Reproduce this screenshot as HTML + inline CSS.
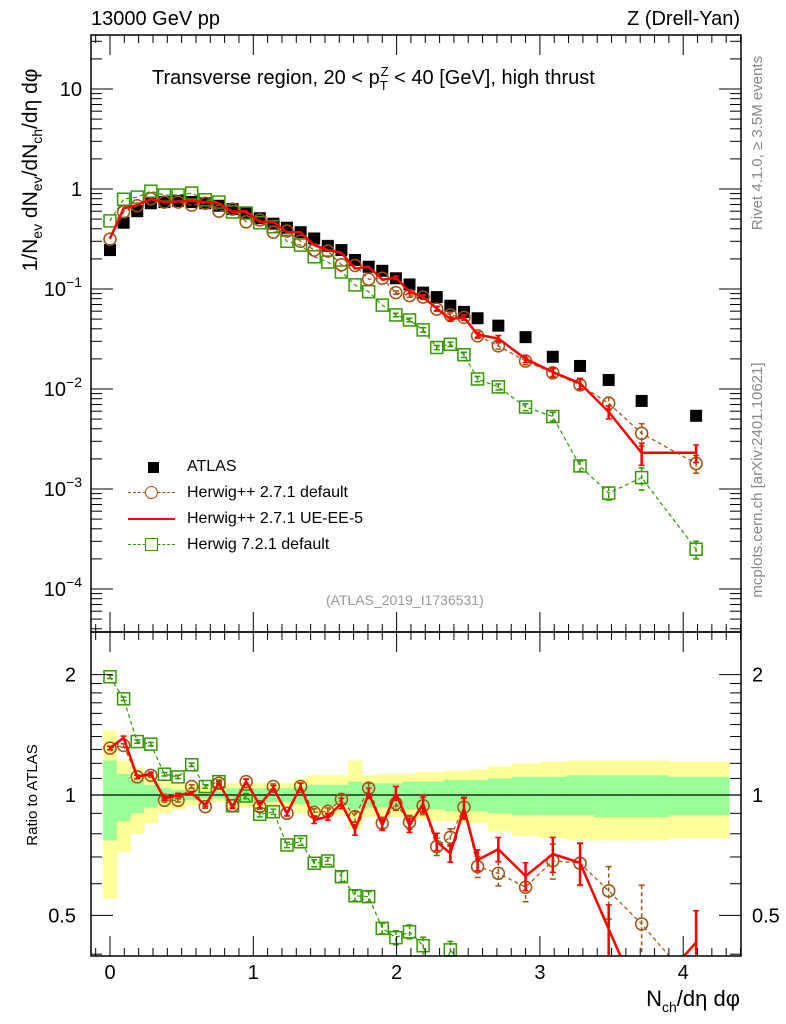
<!DOCTYPE html>
<html><head><meta charset="utf-8"><style>
html,body{margin:0;background:#fff;overflow:hidden;width:786px;height:1024px;}
svg text{font-family:"Liberation Sans",sans-serif;}
</style></head><body>
<svg id="c" width="786" height="1024" xmlns="http://www.w3.org/2000/svg" style="position:absolute;left:0;top:0">
<text transform="translate(37,170) rotate(-90)" text-anchor="middle" font-size="21">1/N<tspan font-size="14" dy="5">ev</tspan><tspan dy="-5"> dN</tspan><tspan font-size="14" dy="5">ev</tspan><tspan dy="-5">/dN</tspan><tspan font-size="14" dy="5">ch</tspan><tspan dy="-5">/dη dφ</tspan></text>
<text transform="translate(37,795) rotate(-90)" text-anchor="middle" font-size="15">Ratio to ATLAS</text>
<text transform="translate(762,143) rotate(-90)" text-anchor="middle" font-size="15" fill="#888">Rivet 4.1.0, ≥ 3.5M events</text>
<text transform="translate(762,480) rotate(-90)" text-anchor="middle" font-size="15" fill="#888">mcplots.cern.ch [arXiv:2401.10621]</text>
<text x="91" y="25" font-size="20">13000 GeV pp</text>
<text x="740" y="25" font-size="20" text-anchor="end">Z (Drell-Yan)</text>
<text x="152" y="84" font-size="20">Transverse region, 20 &lt; p<tspan font-size="13" dy="6">T</tspan><tspan font-size="13" dx="-7" dy="-14">Z</tspan><tspan dy="8"> &lt; 40 [GeV], high thrust</tspan></text>
<text x="740" y="1006" font-size="22" text-anchor="end">N<tspan font-size="14" dy="6">ch</tspan><tspan dy="-6">/dη dφ</tspan></text>
<text x="326" y="605" font-size="14" fill="#999">(ATLAS_2019_I1736531)</text>
</svg>
<script>
const xVals = [0,0.095,0.19,0.285,0.38,0.475,0.57,0.665,0.76,0.855,0.95,1.045,1.14,1.235,1.33,1.425,1.52,1.615,1.71,1.805,1.9,1.995,2.09,2.185,2.28,2.375,2.47,2.565,2.71,2.9,3.09,3.28,3.48,3.71,4.09];
const atlas = [0.245,0.46,0.60,0.72,0.74,0.76,0.74,0.72,0.68,0.63,0.575,0.51,0.45,0.41,0.37,0.32,0.27,0.245,0.195,0.167,0.152,0.128,0.111,0.092,0.083,0.068,0.059,0.051,0.043,0.033,0.021,0.017,0.0123,0.0076,0.0054];
const ueee5 = [0.32,0.64,0.69,0.79,0.74,0.75,0.76,0.74,0.72,0.59,0.60,0.47,0.47,0.37,0.37,0.275,0.245,0.23,0.16,0.167,0.124,0.13,0.094,0.083,0.064,0.050,0.052,0.035,0.032,0.020,0.0148,0.0114,0.0059,0.0023,0.0023];
const hwpp = [0.315,0.59,0.68,0.80,0.74,0.74,0.69,0.72,0.60,0.63,0.47,0.49,0.37,0.38,0.30,0.245,0.24,0.175,0.172,0.125,0.128,0.092,0.086,0.083,0.063,0.055,0.052,0.034,0.027,0.019,0.0145,0.011,0.0072,0.0036,0.0018];
const hw7 = [0.48,0.79,0.83,0.95,0.87,0.87,0.91,0.78,0.74,0.59,0.575,0.46,0.42,0.30,0.275,0.21,0.186,0.148,0.11,0.094,0.069,0.055,0.049,0.039,0.026,0.028,0.022,0.0126,0.0105,0.0066,0.0053,0.0017,0.00091,0.0013,0.00025];
const ratioUE = [1.31,1.39,1.11,1.13,0.98,1.0,1.01,0.944,1.07,0.935,1.08,0.944,1.04,0.90,1.05,0.866,0.883,0.953,0.818,1.01,0.841,1.01,0.84,0.95,0.764,0.715,0.926,0.688,0.732,0.627,0.712,0.677,0.462,0.30,0.428];
const ratioHwpp = [1.31,1.33,1.11,1.12,0.97,0.97,1.05,0.935,1.07,0.94,1.08,0.935,1.05,0.90,1.05,0.905,0.91,0.975,0.883,1.04,0.85,0.953,0.855,0.94,0.743,0.784,0.932,0.662,0.637,0.588,0.685,0.675,0.576,0.476,0.33];
const ratioHw7 = [1.975,1.74,1.36,1.34,1.127,1.11,1.19,1.05,1.08,0.94,0.994,0.895,0.908,0.75,0.764,0.675,0.684,0.625,0.56,0.557,0.464,0.44,0.455,0.42,0.31,0.41,0.37,0.25,0.24,0.2,0.25,0.1,0.07,0.17,0.05];
const modelErr = [0.01,0.01,0.01,0.01,0.01,0.01,0.01,0.01,0.01,0.01,0.015,0.015,0.015,0.015,0.02,0.02,0.02,0.03,0.03,0.03,0.03,0.04,0.04,0.05,0.05,0.05,0.06,0.06,0.07,0.08,0.1,0.12,0.15,0.25,0.2];
const totUp = [1.45,1.22,1.17,1.12,1.08,1.07,1.06,1.05,1.04,1.07,1.07,1.07,1.07,1.07,1.10,1.12,1.12,1.12,1.22,1.12,1.13,1.13,1.13,1.14,1.14,1.15,1.15,1.16,1.18,1.20,1.21,1.22,1.22,1.22,1.21];
const totDn = [0.55,0.72,0.80,0.85,0.90,0.92,0.94,0.95,0.96,0.93,0.93,0.93,0.93,0.93,0.90,0.89,0.89,0.89,0.82,0.88,0.88,0.88,0.87,0.87,0.86,0.86,0.85,0.85,0.81,0.79,0.78,0.77,0.77,0.77,0.78];
const statUp = [1.22,1.13,1.09,1.06,1.04,1.03,1.03,1.02,1.02,1.04,1.04,1.04,1.04,1.04,1.05,1.06,1.06,1.06,1.08,1.07,1.07,1.07,1.08,1.08,1.08,1.09,1.09,1.09,1.10,1.11,1.11,1.12,1.12,1.12,1.11];
const statDn = [0.77,0.86,0.90,0.93,0.96,0.97,0.97,0.98,0.98,0.96,0.96,0.96,0.96,0.96,0.95,0.94,0.94,0.94,0.92,0.93,0.93,0.93,0.92,0.92,0.92,0.91,0.91,0.91,0.90,0.89,0.89,0.89,0.88,0.88,0.89];
const mainTicks = [1,0,-1,-2,-3,-4];
const ratioTicks = [2,1,0.5];

const NS="http://www.w3.org/2000/svg", svg=document.getElementById('c');
function el(t,a,p){const e=document.createElementNS(NS,t);for(const k in a)e.setAttribute(k,a[k]);(p||svg).appendChild(e);return e;}
const L=91,R=741,T=35,MB=632,RB=956;
const X=v=>110+143.3*v;
const Ym=v=>189-100*Math.log10(v);
const Yr=v=>795-400*Math.log10(v);
const gm=el('g',{});


const gr=el('g',{});


const edges=[];for(let i=0;i<xVals.length;i++){edges.push(i==0?X(xVals[0])-6.8:(X(xVals[i-1])+X(xVals[i]))/2);}edges.push(729);
const cl=(y,a,b)=>Math.max(a,Math.min(b,y));
for(let i=0;i<xVals.length;i++){
 const ta=cl(Yr(totUp[i]),MB,RB),tb=cl(Yr(totDn[i]),MB,RB);
 const y1=el('rect',{x:edges[i],y:ta,width:edges[i+1]-edges[i]+0.5,height:tb-ta,fill:'#ffff99'},gr);
 
 
 const g1=el('rect',{x:edges[i],y:Yr(statUp[i]),width:edges[i+1]-edges[i]+0.5,height:Yr(statDn[i])-Yr(statUp[i]),fill:'#99ff99'},gr);
 
 
}
el('line',{x1:L,x2:R,y1:Yr(1),y2:Yr(1),stroke:'#000','stroke-width':1.2},gr);
atlas.forEach((v,i)=>{const r=el('rect',{x:X(xVals[i])-6,y:Ym(v)-6,width:12,height:12,fill:'#000'},gm);
 
 });
// build path clipped to [y0,y1]
function clippedPath(pts,y0,y1){
 let d='',pen=false;
 for(let i=0;i<pts.length-1;i++){
  let [xa,ya]=pts[i],[xb,yb]=pts[i+1];
  let t0=0,t1=1;const dy=yb-ya;
  if(dy!==0){const ta=(y0-ya)/dy,tb=(y1-ya)/dy;t0=Math.max(t0,Math.min(ta,tb));t1=Math.min(t1,Math.max(ta,tb));}
  else if(ya<y0||ya>y1){pen=false;continue;}
  if(t0>t1){pen=false;continue;}
  const sx=xa+(xb-xa)*t0,sy=ya+dy*t0,ex=xa+(xb-xa)*t1,ey=ya+dy*t1;
  if(!pen||t0>0)d+='M'+sx.toFixed(1)+','+sy.toFixed(1);
  d+='L'+ex.toFixed(1)+','+ey.toFixed(1);
  pen=(t1>=1);
 }
 return d;
}
function series(vals,rat,col,dash,width,marker,name){
 ['m','r'].forEach(panel=>{
  const g=panel=='m'?gm:gr, Y=panel=='m'?Ym:Yr, y0=panel=='m'?T:MB, y1=panel=='m'?MB:RB;
  const val=i=>panel=='m'?vals[i]:rat[i];
  const pts=vals.map((v,i)=>[X(xVals[i]),Y(val(i))]);
  const p=el('path',{d:clippedPath(pts,y0,y1),fill:'none',stroke:col,'stroke-width':width,'stroke-dasharray':dash},g);
  
  
  vals.forEach((v,i)=>{
   const x=X(xVals[i]),y=Y(val(i)),e=modelErr[i];
   let ya=Y(val(i)*(1+e)),yb=Y(val(i)*(1-e));
   if(ya>y1-1)return;
   yb=Math.min(yb,y1-1);
   if(Math.abs(yb-ya)>3){const eb=el('line',{x1:x,x2:x,y1:ya,y2:yb,stroke:col,'stroke-width':width>2?2.5:1.5,'stroke-dasharray':dash},g);
    
    
    el('line',{x1:x-3,x2:x+3,y1:ya,y2:ya,stroke:col,'stroke-width':1.5},g);if(yb<y1-2)el('line',{x1:x-3,x2:x+3,y1:yb,y2:yb,stroke:col,'stroke-width':1.5},g);}
   if(y>y1-6)return;
   let m=null;
   if(marker=='circle')m=el('circle',{cx:x,cy:y,r:6,fill:'none',stroke:col,'stroke-width':1.5},g);
   else if(marker=='square')m=el('rect',{x:x-6,y:y-6,width:12,height:12,fill:'none',stroke:col,'stroke-width':1.5},g);
   if(m){
    }
  });
 });
}
series(hw7,ratioHw7,'#339900','4,3',1.2,'square','herwig721');
series(hwpp,ratioHwpp,'#a0520f','4,3',1.2,'circle','herwigpp-default');
series(ueee5,ratioUE,'#ff0000','none',2.5,'none','herwigpp-ueee5');
[[T,MB],[MB,RB]].forEach(([a,b],k)=>{const f=el('rect',{x:L,y:a,width:R-L,height:b-a,fill:'none',stroke:'#000','stroke-width':1.5});
 
 });
for(let i=-1;i<=44;i++){const v=i/10,x=X(v);if(x<L||x>R)continue;const maj=i%10==0,len=maj?20:8;
 [[T,1],[MB,-1],[MB,1],[RB,-1]].forEach(([y,s])=>el('line',{x1:x,x2:x,y1:y,y2:y+s*len,stroke:'#000','stroke-width':1}));
 if(maj){const t=el('text',{x:x,y:RB+23,'text-anchor':'middle','font-size':20});t.textContent=i/10;
  
  }}
for(let d=-5;d<=1;d++){for(let m=1;m<10;m++){const v=m*Math.pow(10,d),y=Ym(v);if(y<T||y>MB)continue;const len=m==1?22:11;
 el('line',{x1:L,x2:L+len,y1:y,y2:y,stroke:'#000'});el('line',{x1:R,x2:R-len,y1:y,y2:y,stroke:'#000'});}}
mainTicks.forEach(d=>{const y=Ym(Math.pow(10,d));const t=el('text',{x:82,y:y+7,'text-anchor':'end','font-size':20});
 
 
 if(d==1)t.textContent='10';else if(d==0)t.textContent='1';else{t.textContent='10';const s=el('tspan',{dy:-9,'font-size':14},t);s.textContent='−'+(-d);}});
[0.4,0.5,0.6,0.7,0.8,0.9,1,2].forEach(v=>{const y=Yr(v),len=(v==1||v==0.5||v==2)?22:11;if(y>RB)return;el('line',{x1:L,x2:L+len,y1:y,y2:y,stroke:'#000'});el('line',{x1:R,x2:R-len,y1:y,y2:y,stroke:'#000'});});
[1.1,1.2,1.3,1.4,1.5,1.6,1.7,1.8,1.9].forEach(v=>{const y=Yr(v);el('line',{x1:L,x2:L+11,y1:y,y2:y,stroke:'#000'});el('line',{x1:R,x2:R-11,y1:y,y2:y,stroke:'#000'});});
ratioTicks.forEach(v=>{const y=Yr(v);[[76,'end'],[752,'start']].forEach(([x,a])=>{const t=el('text',{x:x,y:y+7,'text-anchor':a,'font-size':20});t.textContent=v;
 
 });});
</script>
<div style="position:absolute;left:128px;top:454px;font-family:'Liberation Sans',sans-serif;font-size:16px;line-height:26px">
 <div style="position:relative;padding-left:59px"><span style="position:absolute;left:20px;top:8px;width:11px;height:11px;background:#000"></span>ATLAS</div>
 <div style="position:relative;padding-left:59px"><span style="position:absolute;left:0;top:12px;width:47px;border-top:1.5px dashed #a0520f"></span><span style="position:absolute;left:17px;top:6px;width:11px;height:11px;border:1.5px solid #a0520f;border-radius:50%;background:#fff"></span>Herwig++ 2.7.1 default</div>
 <div style="position:relative;padding-left:59px"><span style="position:absolute;left:0;top:12px;width:47px;border-top:2.5px solid #f00"></span>Herwig++ 2.7.1 UE-EE-5</div>
 <div style="position:relative;padding-left:59px"><span style="position:absolute;left:0;top:12px;width:47px;border-top:1.5px dashed #339900"></span><span style="position:absolute;left:17px;top:6px;width:11px;height:11px;border:1.5px solid #339900;background:#fff"></span>Herwig 7.2.1 default</div>
</div>
</body></html>
